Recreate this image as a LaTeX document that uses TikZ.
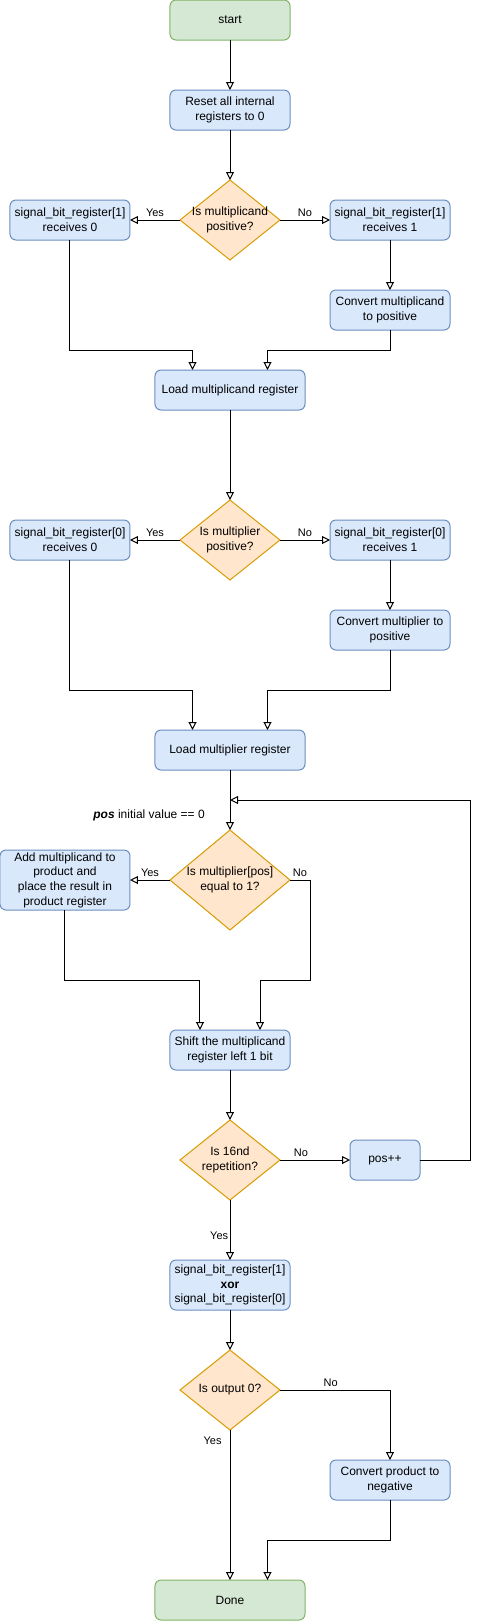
\documentclass[tikz,border=0pt]{standalone}
\usepackage{fontspec}
\setmainfont{Liberation Sans}
\usetikzlibrary{positioning, shapes.geometric, arrows.meta}

\definecolor{termfill}{HTML}{D5E8D4}
\definecolor{termline}{HTML}{82B366}
\definecolor{procfill}{HTML}{DAE8FC}
\definecolor{procline}{HTML}{6C8EBF}
\definecolor{decfill}{HTML}{FFE6CC}
\definecolor{decline}{HTML}{D79B00}

\begin{document}
\begin{tikzpicture}[
  font=\fontsize{9}{11}\selectfont,
  node distance=37.5pt,
  terminal/.style={draw=termline, fill=termfill, line width=0.75pt, rounded corners=4.5pt, align=center, minimum width=90pt, minimum height=30pt, inner sep=1pt, outer sep=0pt},
  box/.style={draw=procline, fill=procfill, line width=0.75pt, rounded corners=4.5pt, align=center, minimum width=90pt, minimum height=30pt, inner sep=1pt, outer sep=0pt},
  decision/.style={diamond, draw=decline, fill=decfill, line width=0.75pt, minimum width=75pt, minimum height=60pt, inner sep=0pt, outer sep=0pt},
  edgelabel/.style={font=\fontsize{8.25}{10}\selectfont, inner sep=2pt},
  note/.style={inner sep=0pt},
  arrow/.style={-{Triangle[open, length=6pt, width=6pt]}, line width=0.75pt}
]
\useasboundingbox (-172.5pt,15pt) rectangle (186.75pt,-1200.75pt);

\node[terminal] (start) at (0,0) {start};
\node[box, below=of start] (reset) {Reset all internal\\registers to 0};
\node[decision, below=of reset, label={[align=center]center:Is multiplicand\\positive?}] (candsign) {};
\node[box, left=of candsign] (sbrone0) {signal\_bit\_register[1]\\receives 0};
\node[box, right=of candsign] (sbrone1) {signal\_bit\_register[1]\\receives 1};
\node[box, below=of sbrone1] (candpos) {Convert multiplicand\\to positive};
\node[box, minimum width=112.5pt, below=82.5pt of candsign] (loadcand) {Load multiplicand register};

\node[decision, below=67.5pt of loadcand, label={[align=center]center:Is multiplier\\positive?}] (plsign) {};
\node[box, left=of plsign] (sbrzero0) {signal\_bit\_register[0]\\receives 0};
\node[box, right=of plsign] (sbrzero1) {signal\_bit\_register[0]\\receives 1};
\node[box, below=of sbrzero1] (plpos) {Convert multiplier to\\positive};
\node[box, minimum width=112.5pt, below=112.5pt of plsign] (loadpl) {Load multiplier register};

\node[decision, minimum width=90pt, minimum height=75pt, below=45pt of loadpl, label={[align=center]center:Is multiplier[pos]\\equal to 1?}] (bittest) {};
\node[box, minimum width=97.5pt, minimum height=45pt, left=30pt of bittest] (add) {Add multiplicand to\\product and\\place the result in\\product register};
\node[note, above left=6.75pt and 18.75pt of bittest.north] (init) {\textbf{\textit{pos}} initial value == 0};
\node[box, below=75pt of bittest] (shift) {Shift the multiplicand\\register left 1 bit};
\node[decision, below=of shift, label={[align=center]center:Is 16nd\\repetition?}] (rep) {};
\node[box, minimum width=52.5pt, right=52.5pt of rep] (posinc) {pos++};

\node[box, minimum height=37.5pt, below=45pt of rep] (xor) {signal\_bit\_register[1]\\\textbf{xor}\\signal\_bit\_register[0]};
\node[decision, below=30pt of xor, label={center:Is output 0?}] (zero) {};
\node[box, below right=52.5pt and 37.5pt of zero.east] (neg) {Convert product to\\negative};
\node[terminal, minimum width=112.5pt, below=112.5pt of zero] (done) {Done};

\coordinate (loopin) at ([yshift=22.5pt]bittest.north);

\draw[arrow] (start) -- (reset);
\draw[arrow] (reset) -- (candsign);
\draw[arrow] (candsign) -- node[above, edgelabel] {Yes} (sbrone0);
\draw[arrow] (candsign) -- node[above, edgelabel] {No} (sbrone1);
\draw[arrow] (sbrone1) -- (candpos);
\draw[arrow] (sbrone0.south) |- ([xshift=-28.125pt, yshift=15pt]loadcand.north) -- ([xshift=-28.125pt]loadcand.north);
\draw[arrow] (candpos.south) |- ([xshift=28.125pt, yshift=15pt]loadcand.north) -- ([xshift=28.125pt]loadcand.north);

\draw[arrow] (loadcand) -- (plsign);
\draw[arrow] (plsign) -- node[above, edgelabel] {Yes} (sbrzero0);
\draw[arrow] (plsign) -- node[above, edgelabel] {No} (sbrzero1);
\draw[arrow] (sbrzero1) -- (plpos);
\draw[arrow] (sbrzero0.south) |- ([xshift=-28.125pt, yshift=30pt]loadpl.north) -- ([xshift=-28.125pt]loadpl.north);
\draw[arrow] (plpos.south) |- ([xshift=28.125pt, yshift=30pt]loadpl.north) -- ([xshift=28.125pt]loadpl.north);

\draw[arrow] (loadpl) -- (bittest);
\draw[arrow] (bittest) -- node[above, edgelabel] {Yes} (add);
\draw[arrow] (bittest.east) -- node[above, edgelabel] {No} ++(15pt,0) |- ([xshift=22.5pt, yshift=37.5pt]shift.north) -- ([xshift=22.5pt]shift.north);
\draw[arrow] (add.south) |- ([xshift=-22.5pt, yshift=37.5pt]shift.north) -- ([xshift=-22.5pt]shift.north);
\draw[arrow] (shift) -- (rep);
\draw[arrow] (rep) -- node[above, edgelabel, pos=0.3] {No} (posinc);
\draw[arrow] (posinc.east) -- ++(37.5pt,0) |- (loopin);
\draw[arrow] (rep) -- node[left, edgelabel, pos=0.6, inner sep=1pt] {Yes} (xor);

\draw[arrow] (xor) -- (zero);
\draw[arrow] (zero.east) -| node[above, edgelabel, pos=0.23] {No} (neg);
\draw[arrow] (zero) -- node[left=4pt, edgelabel, pos=0.07] {Yes} (done);
\draw[arrow] (neg.south) |- ([xshift=28.125pt, yshift=30pt]done.north) -- ([xshift=28.125pt]done.north);
\end{tikzpicture}
\end{document}
